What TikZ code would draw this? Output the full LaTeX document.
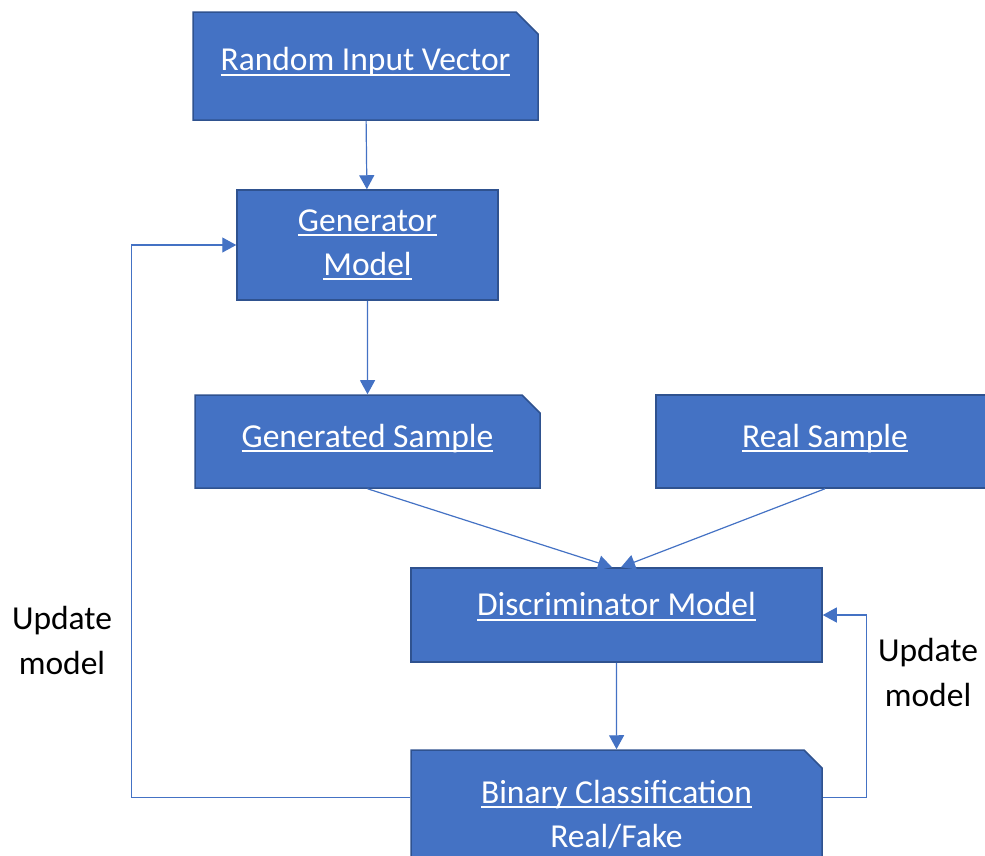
\documentclass[tikz,border=0pt]{standalone}
\usepackage{fontspec}
\setmainfont{Carlito}
\usetikzlibrary{arrows.meta,shapes.misc}
\definecolor{boxfill}{HTML}{4472C4}
\definecolor{boxline}{HTML}{2F528F}
\definecolor{linkblue}{HTML}{4472C4}
% underline at a fixed depth below the baseline
\newcommand\ulword[1]{\setbox0\hbox{#1}\rlap{\rule[-5pt]{\wd0}{2pt}}\box0}
\tikzset{
  block/.style={rectangle, fill=boxfill, draw=boxline, line width=1.5pt,
    text=white, align=center, inner sep=0pt,
    font=\fontsize{33.5}{44}\selectfont},
  snipped/.style={block, chamfered rectangle, chamfered rectangle corners=north east,
    chamfered rectangle xsep=#1, chamfered rectangle ysep=#1},
  arr/.style={draw=linkblue, line width=1.2pt,
    -{Triangle[length=14pt,width=15pt]}},
  note/.style={align=center, text=black, font=\fontsize{33.5}{45}\selectfont}
}
\begin{document}
\begin{tikzpicture}[x=1pt,y=-1pt]
\useasboundingbox (0,0) rectangle (985,855);
\clip (0,0) rectangle (985,855);

\node[snipped=11pt, minimum width=345pt, minimum height=108pt] (riv) at (365.5,66)
  {\raisebox{14pt}{\ulword{Random Input Vector}}};
\node[block, minimum width=261pt, minimum height=110pt] (gen) at (367.5,245)
  {\raisebox{-4pt}{\ulword{Generator}}\\\raisebox{-4pt}{\ulword{Model}}};
\node[snipped=9pt, minimum width=345pt, minimum height=93pt] (gs) at (367.5,441.5)
  {\raisebox{12pt}{\ulword{Generated Sample}}};
\node[block, minimum width=338pt, minimum height=93pt] (rs) at (825,441.5)
  {\raisebox{12pt}{\ulword{Real Sample}}};
\node[block, minimum width=411pt, minimum height=94pt] (disc) at (616.5,615)
  {\raisebox{22pt}{\ulword{Discriminator Model}}};
\node[snipped=9pt, minimum width=411pt, minimum height=129pt] (bin) at (616.5,814.5)
  {\ulword{Binary Classification}\\Real/Fake};

\node[note] (updL) at (62,640) {Update\\model};
\node[note] (updR) at (928,672) {Update\\model};

\draw[arr] (riv) -- (gen);
\draw[arr] (gen) -- (gs);
\draw[arr] (gs.south) -- ([xshift=-4.5pt]disc.north);
\draw[arr] (rs.south) -- ([xshift=4.5pt]disc.north);
\draw[arr] (disc) -- (bin);
\draw[arr] ([yshift=17pt]bin.west) -- ++(-279,0) |- (gen.west);
\draw[arr] ([yshift=17pt]bin.east) -- ++(44,0) |- (disc.east);
\end{tikzpicture}
\end{document}
